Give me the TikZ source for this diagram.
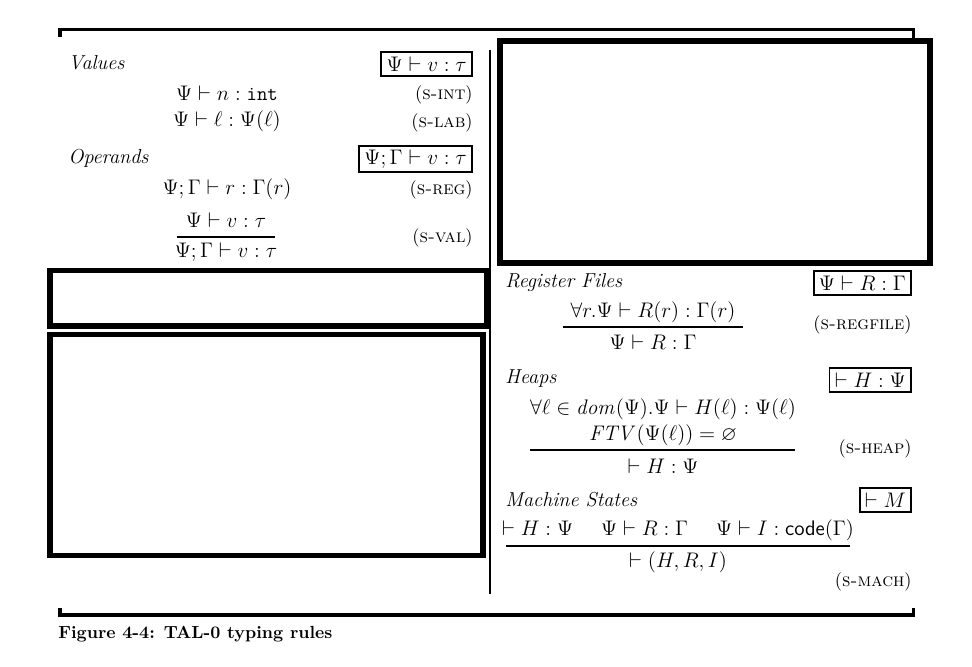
\documentclass[tikz,border=0pt]{standalone}
\usepackage{amssymb}
\usepackage{amsmath}
\usepackage{tikz}
\usetikzlibrary{calc}

\begin{document}
\begin{tikzpicture}[x=0.02cm,y=-0.02cm,
    every node/.style={font=\fontsize{11.5}{14}\selectfont},
    heading/.style={anchor=west,inner xsep=0pt,font=\fontsize{11.5}{14}\selectfont\itshape},
    judgbox/.style={draw,line width=1.1pt,anchor=east,inner xsep=3pt,inner ysep=2pt,minimum height=14pt},
    rulename/.style={anchor=east,inner xsep=0pt,font=\fontsize{10.5}{12}\selectfont},
    blackout/.style={line width=3pt},
    framerule/.style={line width=2pt},
    rulebar/.style={line width=1pt}]
    \useasboundingbox (0,0) rectangle (972,666);
    \draw[framerule] (60,37) -- (60,29.5) -- (913.5,29.5) -- (913.5,38);
    \draw[framerule] (60,608) -- (60,615) -- (913.5,615) -- (913.5,608);
    \draw[line width=0.6pt] (490,50) -- (490,594);
    \node[heading] (values) at (68,63) {Values};
    \node[judgbox] (valjdg) at (473,64) {$\Psi \vdash v : \tau$};
    \node[] (sint) at (227,93) {$\Psi \vdash n : \texttt{int}$};
    \node[rulename] (sintname) at (473,95) {(\textsc{s-int})};
    \node[] (slab) at (227,121) {$\Psi \vdash \ell : \Psi(\ell)$};
    \node[rulename] (slabname) at (473,123) {(\textsc{s-lab})};
    \node[heading] (operands) at (68,158) {Operands};
    \node[judgbox] (opjdg) at (473,159) {$\Psi;\Gamma \vdash v : \tau$};
    \node[] (sreg) at (227,189) {$\Psi;\Gamma \vdash r : \Gamma(r)$};
    \node[rulename] (sregname) at (473,190) {(\textsc{s-reg})};
    \node[] (svalprem) at (226,220) {$\Psi \vdash v : \tau$};
    \node[] (svalconc) at (226,252) {$\Psi;\Gamma \vdash v : \tau$};
    \coordinate (svalL) at (177,237);
    \coordinate (svalR) at (275,237);
    \draw[rulebar] (svalL) -- (svalR);
    \node[rulename] (svalname) at (473,238) {(\textsc{s-val})};
    \draw[blackout] (500,41) rectangle (930,263);
    \draw[blackout] (50,270.5) rectangle (487,326);
    \draw[blackout] (50,334.5) rectangle (483,555.5);
    \node[heading] (regfiles) at (505,283) {Register Files};
    \node[judgbox] (regjdg) at (912,283) {$\Psi \vdash R : \Gamma$};
    \node[] (sregfileprem) at (653,312) {$\forall r.\Psi \vdash R(r) : \Gamma(r)$};
    \node[] (sregfileconc) at (653,342) {$\Psi \vdash R : \Gamma$};
    \coordinate (sregfileL) at (563,327);
    \coordinate (sregfileR) at (743,327);
    \draw[rulebar] (sregfileL) -- (sregfileR);
    \node[rulename] (sregfilename) at (912,325) {(\textsc{s-regfile})};
    \node[heading] (heaps) at (505,379) {Heaps};
    \node[judgbox] (heapjdg) at (912,380) {$\vdash H : \Psi$};
    \node[] (sheapprem) at (663,409) {$\forall\ell \in \mathit{dom}(\Psi).\Psi \vdash H(\ell) : \Psi(\ell)$};
    \node[] (sheapftv) at (663,435) {$\mathit{FTV}(\Psi(\ell)) = \varnothing$};
    \node[] (sheapconc) at (663,466) {$\vdash H : \Psi$};
    \coordinate (sheapL) at (530,450);
    \coordinate (sheapR) at (795,450);
    \draw[rulebar] (sheapL) -- (sheapR);
    \node[rulename] (sheapname) at (912,449) {(\textsc{s-heap})};
    \node[heading] (machstates) at (505,500) {Machine States};
    \node[judgbox] (machjdg) at (912,500) {$\vdash M$};
    \node[] (smachprem) at (678,530) {$\vdash H : \Psi \hspace{16pt} \Psi \vdash R : \Gamma \hspace{16pt} \Psi \vdash I : \mathsf{code}(\Gamma)$};
    \node[] (smachconc) at (678,562) {$\vdash (H,R,I)$};
    \coordinate (smachL) at (506,546);
    \coordinate (smachR) at (850,546);
    \draw[rulebar] (smachL) -- (smachR);
    \node[rulename] (smachname) at (912,582) {(\textsc{s-mach})};
    \node[anchor=base west,inner xsep=0pt,font=\fontsize{10}{12}\selectfont\bfseries] (caption) at (58,638) {Figure 4-4: TAL-0 typing rules};
\end{tikzpicture}
\end{document}
